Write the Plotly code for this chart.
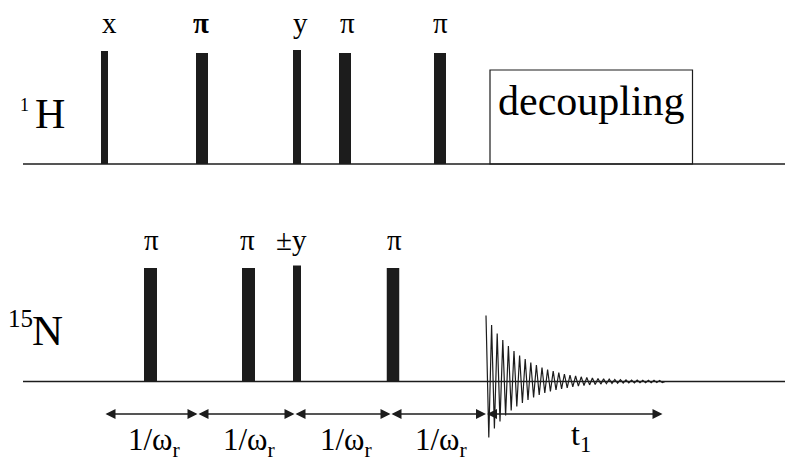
import plotly.graph_objects as go

# ---------------- data ----------------
# 1H channel pulses: time position, width, height, phase label
H_PULSE_T = [104.5, 202, 297, 345, 440]
H_PULSE_W = [7, 12, 8, 12, 12]
H_PULSE_H = [113, 111, 114, 111, 111]
H_LABELS = ["x", "<b>π</b>", "y", "π", "π"]
H_LABEL_NUDGE = [5, -1, 3, 2.5, 0.5]

# 15N channel pulses
N_PULSE_T = [150.5, 248.5, 297, 393]
N_PULSE_W = [13, 13, 8, 12.5]
N_PULSE_H = [113.5, 113.5, 116, 113.5]
N_LABELS = ["π", "π", "±y", "π"]
N_LABEL_NUDGE = [1, -1, -6, 1.5]

# decoupling block on 1H
DECOUPLE_T = [490, 692.5]
DECOUPLE_H = 94
DECOUPLE_TEXT = "decoupling"

# rotor-period delays and t1 acquisition
DELAY_BOUNDS = [105, 198, 295, 391, 486.5]
DELAY_LABEL = "1/ω<sub>r</sub>"
T1_SPAN = [486.5, 663]
T1_LABEL = "t<sub>1</sub>"

# FID extremes (upper / lower amplitude of each cycle)
FID_START = 486
FID_HALF_PERIOD = 2.8
FID_UP = [66, 56.5, 48, 41.5, 35.5, 30.5, 26, 22.5, 19, 16.5, 14, 12, 10.3, 8.8,
          7.5, 6.4, 5.5, 4.7, 4.0, 3.5, 3.0, 2.6, 2.3, 2.0, 1.8, 1.6, 1.5, 1.4,
          1.3, 1.2, 1.2, 1.1]
FID_DOWN = [56, 47, 40, 34, 29, 25, 21.5, 18.5, 16, 13.5, 11.5, 10, 8.5, 7.3,
            6.3, 5.4, 4.6, 4.0, 3.4, 3.0, 2.6, 2.2, 1.9, 1.7, 1.5, 1.4, 1.3,
            1.2, 1.2, 1.1, 1.1, 1.0]

# ---------------- layout constants ----------------
W, HT = 785, 463
H_BASE = 164
N_BASE = 381.5
ARROW_Y = 414
LINE_X0 = 23
INK = "#1c1c1c"
FONT = "'Liberation Serif', 'Times New Roman', Times, serif"
LABEL_SIZE = 29
HEAD_L, HEAD_HW = 10, 5

fig = go.Figure()
shapes = []
annotations = []

# channel baselines
for base in (H_BASE, N_BASE):
    shapes.append(dict(type="line", xref="x", yref="y", x0=LINE_X0, x1=W,
                       y0=base, y1=base, line=dict(color=INK, width=1.5)))

# pulses + labels
def add_pulses(ts, ws, hs, labels, nudges, base, label_y):
    for t, w, h, lab, nd in zip(ts, ws, hs, labels, nudges):
        shapes.append(dict(type="rect", xref="x", yref="y",
                           x0=t - w / 2, x1=t + w / 2, y0=base - h, y1=base,
                           fillcolor=INK, line=dict(width=0)))
        annotations.append(dict(x=t + nd, y=label_y, xref="x", yref="y",
                                text=lab, showarrow=False, xanchor="center",
                                yanchor="middle",
                                font=dict(family=FONT, size=LABEL_SIZE, color="#000")))

add_pulses(H_PULSE_T, H_PULSE_W, H_PULSE_H, H_LABELS, H_LABEL_NUDGE, H_BASE, 23)
add_pulses(N_PULSE_T, N_PULSE_W, N_PULSE_H, N_LABELS, N_LABEL_NUDGE, N_BASE, 239.5)

# decoupling box
shapes.append(dict(type="rect", xref="x", yref="y", x0=DECOUPLE_T[0], x1=DECOUPLE_T[1],
                   y0=H_BASE - DECOUPLE_H, y1=H_BASE, fillcolor="rgba(0,0,0,0)",
                   line=dict(color=INK, width=1.2)))
annotations.append(dict(x=(DECOUPLE_T[0] + DECOUPLE_T[1]) / 2, y=101, xref="x", yref="y",
                        text=DECOUPLE_TEXT, showarrow=False, xanchor="center",
                        yanchor="middle", font=dict(family=FONT, size=42, color="#000")))

# channel names
annotations += [
    dict(x=24, y=105, text="1", size=18),
    dict(x=50, y=114, text="H", size=42),
    dict(x=20.5, y=318.5, text="15", size=25),
    dict(x=47.5, y=330.5, text="N", size=43),
]
for a in annotations[-4:]:
    s = a.pop("size")
    a.update(xref="x", yref="y", showarrow=False, xanchor="center", yanchor="middle",
             font=dict(family=FONT, size=s, color="#000"))

# double arrows
def double_arrow(x0, x1, gap0=0.5, gap1=0.5):
    a, b = x0 + gap0, x1 - gap1
    shapes.append(dict(type="line", xref="x", yref="y", x0=a + 2, x1=b - 2,
                       y0=ARROW_Y, y1=ARROW_Y, line=dict(color=INK, width=1.3)))
    left = f"M {a},{ARROW_Y} L {a + HEAD_L},{ARROW_Y - HEAD_HW} L {a + HEAD_L},{ARROW_Y + HEAD_HW} Z"
    right = f"M {b},{ARROW_Y} L {b - HEAD_L},{ARROW_Y - HEAD_HW} L {b - HEAD_L},{ARROW_Y + HEAD_HW} Z"
    for p in (left, right):
        shapes.append(dict(type="path", xref="x", yref="y", path=p,
                           fillcolor=INK, line=dict(width=0)))

for x0, x1 in zip(DELAY_BOUNDS[:-1], DELAY_BOUNDS[1:]):
    double_arrow(x0, x1)
    annotations.append(dict(x=(x0 + x1) / 2 + 3, y=441.5, xref="x", yref="y",
                            text=DELAY_LABEL, showarrow=False, xanchor="center",
                            yanchor="middle", font=dict(family=FONT, size=31, color="#000")))
double_arrow(T1_SPAN[0], T1_SPAN[1])
annotations.append(dict(x=581, y=436, xref="x", yref="y", text=T1_LABEL,
                        showarrow=False, xanchor="center", yanchor="middle",
                        font=dict(family=FONT, size=32, color="#000")))

# FID
fx, fy = [], []
for k, (u, d) in enumerate(zip(FID_UP, FID_DOWN)):
    fx.append(FID_START + 2 * k * FID_HALF_PERIOD)
    fy.append(N_BASE - u)
    fx.append(FID_START + (2 * k + 1) * FID_HALF_PERIOD)
    fy.append(N_BASE + d)
fx.append(FID_START + 2 * len(FID_UP) * FID_HALF_PERIOD)
fy.append(N_BASE)
fig.add_trace(go.Scatter(x=fx, y=fy, mode="lines", line=dict(color=INK, width=1.2),
                         hoverinfo="skip", showlegend=False))

fig.update_layout(
    width=W, height=HT, margin=dict(l=0, r=0, t=0, b=0),
    paper_bgcolor="white", plot_bgcolor="white",
    font=dict(family=FONT),
    xaxis=dict(range=[0, W], visible=False, fixedrange=True),
    yaxis=dict(range=[HT, 0], visible=False, fixedrange=True),
    shapes=shapes, annotations=annotations, showlegend=False,
)
fig.write_html("out.html", config=dict(displayModeBar=False))
